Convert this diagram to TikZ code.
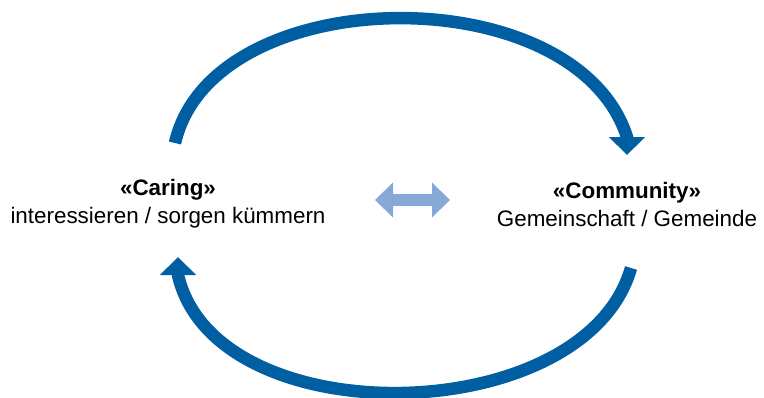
\documentclass[tikz,border=0pt]{standalone}
\usepackage{fontspec}
\setmainfont{Liberation Sans}
\usetikzlibrary{arrows.meta}
\definecolor{cycleblue}{HTML}{005EA3}
\definecolor{linkblue}{HTML}{85A8D7}
\begin{document}
\begin{tikzpicture}[x=1pt,y=-1pt,
  label/.style={align=center,inner sep=0pt,font=\fontsize{22.4}{28}\selectfont},
  cyclearrow/.style={draw=cycleblue,line width=12.5pt,
    -{Triangle[width=35pt,length=18pt]},fill=none},
  linkarrow/.style={draw=linkblue,line width=12pt,
    {Triangle[width=34pt,length=18pt]}-{Triangle[width=34pt,length=18pt]}}]
\useasboundingbox (0,0) rectangle (764,397);

% the two concepts
\node[label] (caring) at (168,204) {\textbf{«Caring»}\\interessieren / sorgen kümmern};
\node[label] (community) at (627,204) {\textbf{«Community»}\\Gemeinschaft / Gemeinde};

% end points of the cycle arrows
\coordinate (topstart) at (175,143);
\coordinate (topbend) at (627,137);
\coordinate (toptip) at (627,155);
\coordinate (botstart) at (631,268);
\coordinate (botbend) at (178,275);
\coordinate (bottip) at (178,257);

% cycle: Caring -> Community (over the top), Community -> Caring (underneath)
\draw[cyclearrow] (topstart) .. controls (212,-20) and (575,-25) .. (topbend) -- (toptip);
\draw[cyclearrow] (botstart) .. controls (585,430) and (215,437) .. (botbend) -- (bottip);

% mutual link between the two
\coordinate (linkl) at (375,200);
\coordinate (linkr) at (450,200);
\draw[linkarrow] (linkl) -- (linkr);
\end{tikzpicture}
\end{document}
